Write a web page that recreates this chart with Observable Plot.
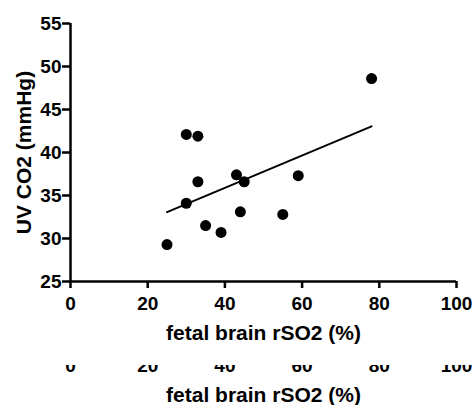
<!DOCTYPE html>
<html>
<head>
<meta charset="utf-8">
<script src="https://cdn.jsdelivr.net/npm/d3@7"></script>
<script src="https://cdn.jsdelivr.net/npm/@observablehq/plot@0.6"></script>
<style>
  html, body { margin: 0; padding: 0; background: #fff; }
  #wrap { position: relative; width: 472px; height: 405px; overflow: hidden; background: #fff; }
  #main { position: absolute; left: 0; top: 0; }
  #copy { position: absolute; left: 0; top: 365px; width: 472px; height: 40px; overflow: hidden; }
  #copy > * { margin-top: -303px; display: block; }
  svg { font-family: "Liberation Sans", Arial, sans-serif; font-weight: bold; }
</style>
</head>
<body>
<div id="wrap"><div id="main"></div><div id="copy"></div></div>
<script>
// Data
const fetalRSO2 = [25, 30, 33, 33, 30, 35, 39, 43, 45, 44, 55, 59, 78];
const uvCO2 = [29.3, 42.1, 41.9, 36.6, 34.1, 31.5, 30.7, 37.4, 36.6, 33.1, 32.8, 37.3, 48.6];
const xTicks = [0, 20, 40, 60, 80, 100];
const yTicks = [25, 30, 35, 40, 45, 50, 55];
const xTitle = "fetal brain rSO2 (%)";
const yTitle = "UV CO2 (mmHg)";

const points = fetalRSO2.map((x, i) => ({x, y: uvCO2[i]}));

const W = 472, H = 345;
const common = {
  width: W, height: H,
  marginLeft: 70, marginRight: 16, marginTop: 23, marginBottom: H - 281,
  style: {background: "transparent", color: "#000", fontFamily: "'Liberation Sans', Arial, sans-serif", fontWeight: "bold", overflow: "visible"},
  x: {domain: [0, 100]}
};

function xAxisMarks() {
  return [
    Plot.ruleY([25], {stroke: "#000", strokeWidth: 2.5}),
    Plot.axisX(xTicks, {tickSize: 7, tickPadding: 8, strokeWidth: 2.5, fontSize: 19, fontWeight: "bold", label: null}),
    Plot.text([xTitle], {frameAnchor: "bottom", lineAnchor: "bottom", dy: 58, fontSize: 21, fontWeight: "bold", fill: "#000"})
  ];
}

const main = Plot.plot({
  ...common,
  y: {domain: [25, 55]},
  marks: [
    Plot.ruleX([0], {stroke: "#000", strokeWidth: 2.5}),
    Plot.axisY(yTicks, {tickSize: 8, tickPadding: 1, strokeWidth: 2.5, fontSize: 19, fontWeight: "bold", label: null}),
    Plot.text([yTitle], {frameAnchor: "left", textAnchor: "middle", rotate: -90, lineAnchor: "middle", dx: -46, fontSize: 21, fontWeight: "bold", fill: "#000"}),
    ...xAxisMarks(),
    Plot.linearRegressionY(points, {x: "x", y: "y", ci: 0, stroke: "#000", strokeWidth: 2}),
    Plot.dot(points, {x: "x", y: "y", r: 5.5, fill: "#000", stroke: "none"})
  ]
});
document.getElementById("main").appendChild(main);

// clipped duplicate of the x axis labels and title, as in the reference image
const copy = Plot.plot({
  ...common,
  y: {domain: [25, 55], axis: null},
  marks: [...xAxisMarks()]
});
document.getElementById("copy").appendChild(copy);
</script>
</body>
</html>
